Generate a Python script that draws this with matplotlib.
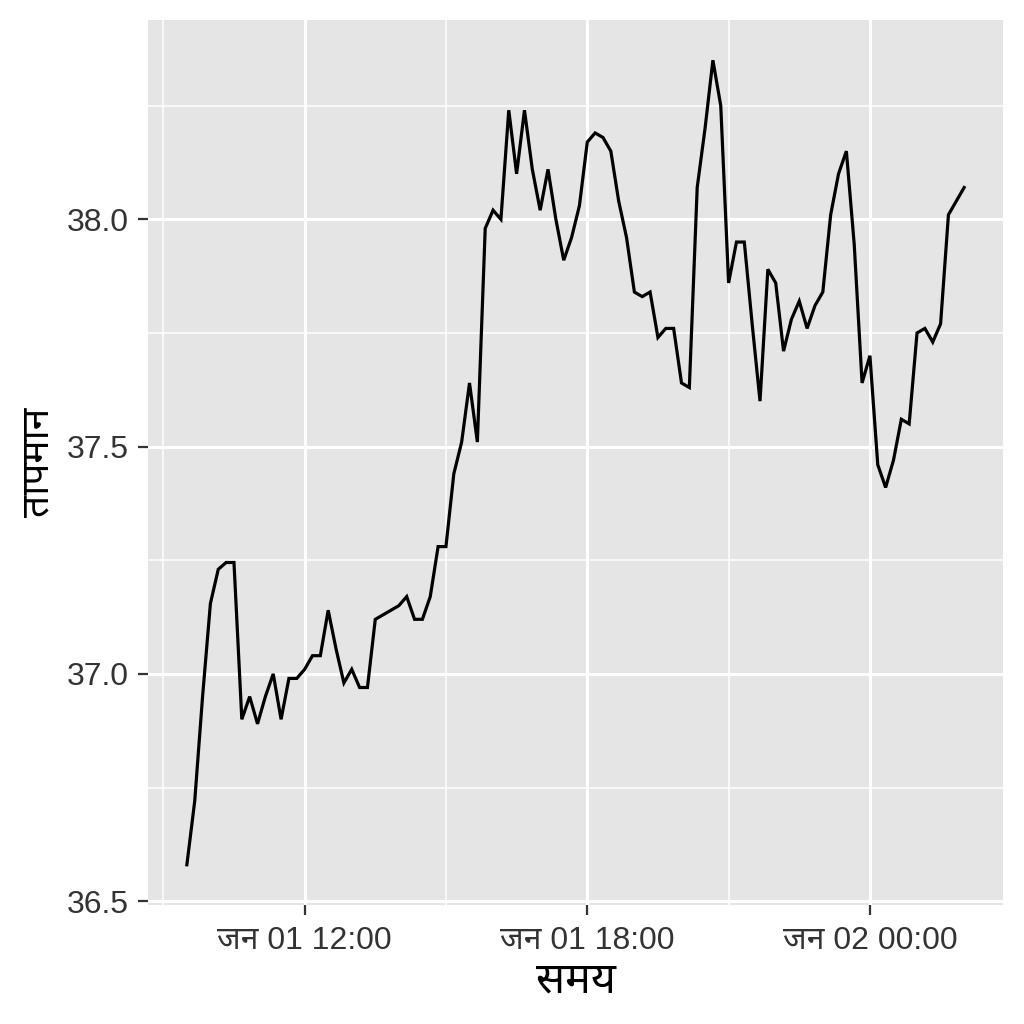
import numpy as np
import pandas as pd
import matplotlib
matplotlib.use("Agg")
import matplotlib.pyplot as plt
import matplotlib.dates as mdates
from matplotlib.ticker import FixedLocator, FixedFormatter
from matplotlib import font_manager
from matplotlib.ft2font import FT2Font

# ---------------- data ----------------
start_time = "2024-01-01 09:30"
n_points = 100
step = "10min"
temperature = [
    36.58, 36.72, 36.95, 37.155, 37.23, 37.245, 37.245, 36.90, 36.95, 36.89,
    36.95, 37.00, 36.90, 36.99, 36.99, 37.01, 37.04, 37.04, 37.14, 37.055,
    36.98, 37.01, 36.97, 36.97, 37.12, 37.13, 37.14, 37.15, 37.17, 37.12,
    37.12, 37.17, 37.28, 37.28, 37.44, 37.51, 37.64, 37.51, 37.98, 38.02,
    38.00, 38.24, 38.10, 38.24, 38.11, 38.02, 38.11, 38.00, 37.91, 37.96,
    38.03, 38.17, 38.19, 38.18, 38.15, 38.04, 37.96, 37.84, 37.83, 37.84,
    37.74, 37.76, 37.76, 37.64, 37.63, 38.07, 38.20, 38.35, 38.25, 37.86,
    37.95, 37.95, 37.77, 37.60, 37.89, 37.86, 37.71, 37.78, 37.82, 37.76,
    37.81, 37.84, 38.01, 38.10, 38.15, 37.945, 37.64, 37.70, 37.46, 37.41,
    37.47, 37.56, 37.55, 37.75, 37.76, 37.73, 37.77, 38.01, 38.04, 38.07,
]
x_major_times = ["2024-01-01 12:00", "2024-01-01 18:00", "2024-01-02 00:00"]
x_major_labels = ["जन 01 12:00", "जन 01 18:00", "जन 02 00:00"]
x_minor_times = ["2024-01-01 09:00", "2024-01-01 15:00", "2024-01-01 21:00"]
y_major = [36.5, 37.0, 37.5, 38.0]
y_major_labels = ["36.5", "37.0", "37.5", "38.0"]
y_minor = [36.75, 37.25, 37.75, 38.25]
x_title = "समय"
y_title = "तापमान"

times = pd.date_range(start_time, periods=n_points, freq=step)

# ---------------- fonts ----------------
def find_devanagari():
    preferred = ["Noto Sans Devanagari", "Lohit Devanagari", "Mukta", "FreeSans",
                 "Noto Serif Devanagari"]
    found = []
    for f in font_manager.fontManager.ttflist:
        try:
            ft = FT2Font(f.fname)
            if ft.get_char_index(ord("स")) and ft.get_char_index(ord("ा")):
                found.append(f.name)
        except Exception:
            pass
    for p in preferred:
        if p in found:
            return p
    return found[0] if found else None

deva = find_devanagari()
families = ["Liberation Sans"] + ([deva] if deva else []) + ["DejaVu Sans"]
plt.rcParams["font.family"] = families

# ---------------- figure ----------------
fig = plt.figure(figsize=(10.24, 10.24), dpi=100)
ax = fig.add_axes([148 / 1024, 1 - 905 / 1024, (1003 - 148) / 1024, (905 - 20) / 1024])
ax.set_facecolor("#E5E5E5")
for s in ax.spines.values():
    s.set_visible(False)

ax.plot(times, temperature, color="black", lw=2.3, solid_joinstyle="miter", zorder=3)
ax.margins(x=0.05, y=0.05)

xmaj = [mdates.date2num(pd.Timestamp(t)) for t in x_major_times]
xmin = [mdates.date2num(pd.Timestamp(t)) for t in x_minor_times]
ax.xaxis.set_major_locator(FixedLocator(xmaj))
ax.xaxis.set_major_formatter(FixedFormatter(x_major_labels))
ax.xaxis.set_minor_locator(FixedLocator(xmin))
ax.yaxis.set_major_locator(FixedLocator(y_major))
ax.yaxis.set_major_formatter(FixedFormatter(y_major_labels))
ax.yaxis.set_minor_locator(FixedLocator(y_minor))

ax.grid(which="major", color="white", lw=2.2, zorder=0)
ax.grid(which="minor", color="white", lw=1.1, zorder=0)
ax.set_axisbelow(True)

ax.tick_params(which="major", length=7, width=1.6, color="#333333",
               labelcolor="#333333", labelsize=23, pad=7)
ax.tick_params(axis="x", which="major", pad=8)
ax.tick_params(which="minor", length=0)

ax.set_xlabel(x_title, fontsize=31, color="black", labelpad=4)
ax.set_ylabel(y_title, fontsize=28, color="black", labelpad=7)

fig.savefig("out.png", dpi=100, facecolor="white")
